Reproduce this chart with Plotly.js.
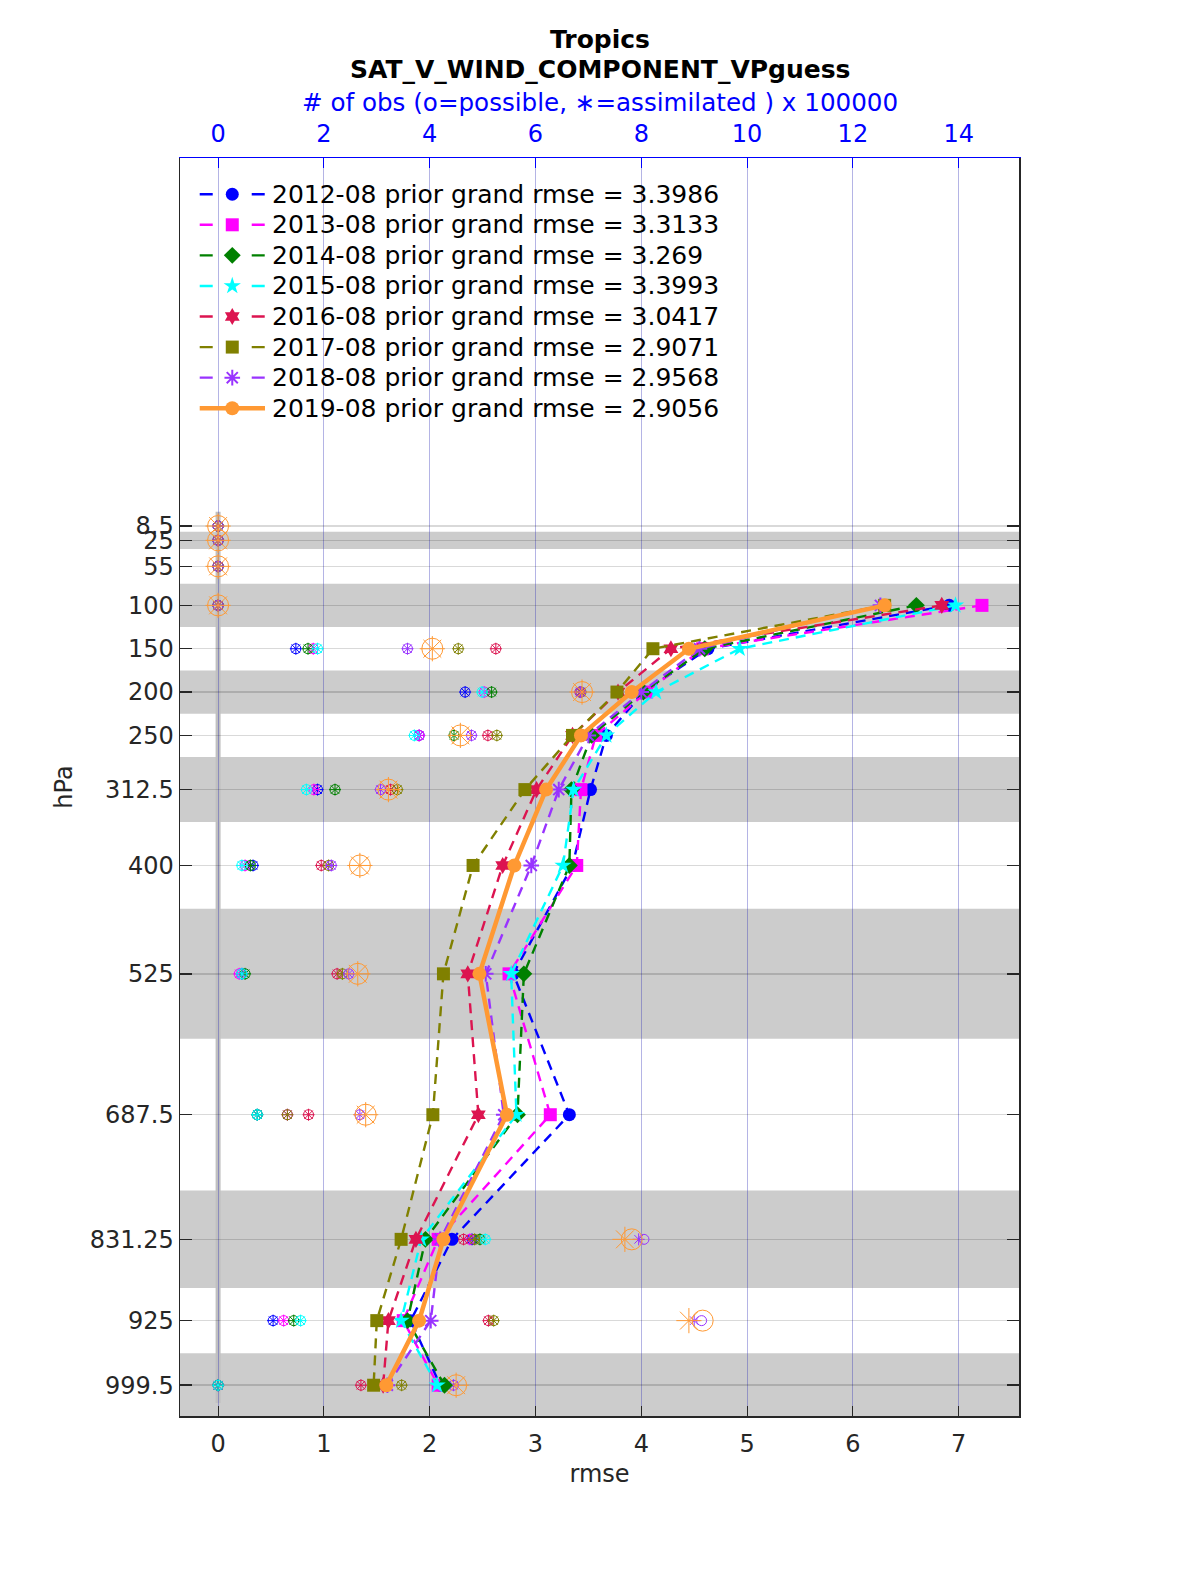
<!DOCTYPE html>
<html><head><meta charset="utf-8">
<script src="https://cdn.plot.ly/plotly-3.0.1.min.js"></script>
<style>html,body{margin:0;padding:0;background:#fff}#plot{width:1200px;height:1575px}</style>
</head><body><div id="plot"></div>
<script>
// ---------- data ----------
const levels = [8.5, 25, 55, 100, 150, 200, 250, 312.5, 400, 525, 687.5, 831.25, 925, 999.5];
const levelLabels = ['8.5', '25', '55', '100', '150', '200', '250', '312.5', '400', '525', '687.5', '831.25', '925', '999.5'];
const rmseLevels = [100, 150, 200, 250, 312.5, 400, 525, 687.5, 831.25, 925, 999.5];
const seriesNames = ['2012-08', '2013-08', '2014-08', '2015-08', '2016-08', '2017-08', '2018-08', '2019-08'];
const grandRmse = ['3.3986', '3.3133', '3.269', '3.3993', '3.0417', '2.9071', '2.9568', '2.9056'];

const rmse2012 = [6.91, 4.63, 4.02, 3.67, 3.52, 3.35, 2.79, 3.32, 2.21, 1.82, 2.10];
const rmse2013 = [7.22, 4.58, 4.05, 3.57, 3.43, 3.39, 2.75, 3.14, 2.08, 1.75, 2.08];
const rmse2014 = [6.60, 4.60, 4.02, 3.53, 3.34, 3.32, 2.89, 2.83, 1.96, 1.79, 2.14];
const rmse2015 = [6.97, 4.93, 4.14, 3.67, 3.36, 3.26, 2.77, 2.82, 1.92, 1.73, 2.07];
const rmse2016 = [6.84, 4.28, 3.78, 3.35, 3.01, 2.69, 2.36, 2.46, 1.87, 1.61, 1.56];
const rmse2017 = [6.30, 4.11, 3.77, 3.35, 2.90, 2.41, 2.13, 2.03, 1.73, 1.50, 1.47];
const rmse2018 = [6.26, 4.55, 4.00, 3.50, 3.22, 2.96, 2.53, 2.70, 2.10, 2.01, 1.60];
const rmse2019 = [6.30, 4.45, 3.91, 3.43, 3.10, 2.80, 2.47, 2.73, 2.13, 1.90, 1.59];

// # of obs (x 100000) per level: possible / assimilated
const possible2012 = [0, 0, 0, 0, 1.47, 4.67, 3.80, 1.88, 0.66, 0.45, 0.74, 4.80, 1.04, 0];
const assim2012    = [0, 0, 0, 0, 1.47, 4.67, 3.80, 1.88, 0.66, 0.45, 0.74, 4.80, 1.04, 0];
const possible2013 = [0, 0, 0, 0, 1.80, 5.03, 3.80, 1.81, 0.51, 0.40, 1.31, 4.76, 1.24, 0];
const assim2013    = [0, 0, 0, 0, 1.80, 5.03, 3.80, 1.81, 0.51, 0.40, 1.31, 4.76, 1.24, 0];
const possible2014 = [0, 0, 0, 0, 1.70, 5.17, 4.46, 2.21, 0.61, 0.51, 0.74, 4.95, 1.43, 0];
const assim2014    = [0, 0, 0, 0, 1.70, 5.17, 4.46, 2.21, 0.61, 0.51, 0.74, 4.95, 1.43, 0];
const possible2015 = [0, 0, 0, 0, 1.88, 4.99, 3.71, 1.67, 0.45, 0.45, 0.74, 5.05, 1.56, 0];
const assim2015    = [0, 0, 0, 0, 1.88, 4.99, 3.71, 1.67, 0.45, 0.45, 0.74, 5.05, 1.56, 0];
const possible2016 = [0, 0, 0, 0, 5.25, 6.84, 5.10, 3.26, 1.95, 2.25, 1.71, 4.64, 5.11, 2.70];
const assim2016    = [0, 0, 0, 0, 5.25, 6.84, 5.10, 3.26, 1.95, 2.25, 1.71, 4.64, 5.11, 2.70];
const possible2017 = [0, 0, 0, 0, 4.54, 6.86, 5.27, 3.39, 2.09, 2.35, 1.31, 4.85, 5.21, 3.47];
const assim2017    = [0, 0, 0, 0, 4.54, 6.86, 5.27, 3.39, 2.09, 2.35, 1.31, 4.85, 5.21, 3.47];
const possible2018 = [0, 0, 0, 0, 3.58, 6.85, 4.79, 3.07, 2.14, 2.47, 2.68, 8.05, 9.14, 4.45];
const assim2018    = [0, 0, 0, 0, 3.58, 6.85, 4.79, 3.07, 2.14, 2.47, 2.68, 7.95, 9.00, 4.45];
const possible2019 = [0, 0, 0, 0, 4.05, 6.88, 4.58, 3.22, 2.68, 2.64, 2.79, 7.82, 9.16, 4.50];
const assim2019    = [0, 0, 0, 0, 4.05, 6.88, 4.58, 3.22, 2.68, 2.64, 2.79, 7.69, 8.90, 4.50];

// shaded layer bands (hPa)
const bandEdges = [[15, 35], [75, 125], [175, 225], [275, 350], [450, 600], [775, 887.5], [962.5, 1040]];

// ---------- styles ----------
const rmseSets = [rmse2012, rmse2013, rmse2014, rmse2015, rmse2016, rmse2017, rmse2018, rmse2019];
const possSets = [possible2012, possible2013, possible2014, possible2015, possible2016, possible2017, possible2018, possible2019];
const assimSets = [assim2012, assim2013, assim2014, assim2015, assim2016, assim2017, assim2018, assim2019];
const colors = ['#0000ff', '#ff00ff', '#008000', '#00ffff', '#dc1450', '#808000', '#9933ff', '#ff9933'];
const symbols = ['circle', 'square', 'diamond', 'star', 'hexagram', 'square', 'asterisk-open', 'circle'];

const FONT = 'DejaVu Sans, Verdana, sans-serif';
const traces = [];

function lineStyle(i, dash) {
  const last = i === 7;
  return {color: colors[i], width: last ? 4.5 : 2.4, dash: last ? 'solid' : dash};
}
function markerStyle(i) {
  const last = i === 7;
  const isAst = symbols[i] === 'asterisk-open';
  return {symbol: symbols[i], size: last ? 14 : 13, color: colors[i],
          line: {color: colors[i], width: isAst ? 2 : 0}};
}

// obs counts first (top axis: x)
for (let i = 0; i < 8; i++) {
  const big = i === 7;
  traces.push({
    x: possSets[i], y: levels, xaxis: 'x', yaxis: 'y', type: 'scatter', mode: 'markers',
    showlegend: false, hoverinfo: 'skip',
    marker: {symbol: 'circle-open', size: big ? 21 : 10, color: colors[i], line: {color: colors[i], width: 1}}
  });
  traces.push({
    x: assimSets[i], y: levels, xaxis: 'x', yaxis: 'y', type: 'scatter', mode: 'markers',
    showlegend: false, hoverinfo: 'skip',
    marker: {symbol: 'asterisk-open', size: big ? 21 : 10, color: colors[i], line: {color: colors[i], width: 1}}
  });
}

// rmse profiles (bottom axis: x2)
for (let i = 0; i < 8; i++) {
  traces.push({
    x: rmseSets[i], y: rmseLevels, xaxis: 'x2', yaxis: 'y', type: 'scatter', mode: 'lines+markers',
    showlegend: false, hoverinfo: 'skip',
    line: lineStyle(i, '10px,7px'), marker: markerStyle(i)
  });
}

// legend (drawn in plot-fraction coordinates on a hidden axis pair)
const LEG_X0 = 0.0235, LEG_XM = 0.0623, LEG_X1 = 0.1013, LEG_TEXT_X = 0.1078;
const LEG_Y0 = 0.9712, LEG_DY = 0.02430;
const annotations = [];
for (let i = 0; i < 8; i++) {
  const yy = LEG_Y0 - i * LEG_DY;
  traces.push({
    x: [LEG_X0, LEG_X1], y: [yy, yy], xaxis: 'x3', yaxis: 'y3',
    type: 'scatter', mode: 'lines', showlegend: false, hoverinfo: 'skip',
    line: lineStyle(i, '13px,39px,13px')
  });
  traces.push({
    x: [LEG_XM], y: [yy], xaxis: 'x3', yaxis: 'y3',
    type: 'scatter', mode: 'markers', showlegend: false, hoverinfo: 'skip',
    marker: markerStyle(i)
  });
  annotations.push({
    text: seriesNames[i] + ' prior grand rmse = ' + grandRmse[i],
    xref: 'paper', yref: 'paper', x: LEG_TEXT_X, y: yy, xanchor: 'left', yanchor: 'middle',
    showarrow: false, font: {family: FONT, size: 25, color: '#000000'}
  });
}

annotations.push(
  {text: '<b>Tropics</b>', xref: 'paper', yref: 'paper', x: 0.5, y: 1.0945, showarrow: false,
   xanchor: 'center', yanchor: 'middle', font: {family: FONT, size: 25, color: '#000000'}},
  {text: '<b>SAT_V_WIND_COMPONENT_VPguess</b>', xref: 'paper', yref: 'paper', x: 0.5, y: 1.0705, showarrow: false,
   xanchor: 'center', yanchor: 'middle', font: {family: FONT, size: 25, color: '#000000'}},
  {text: '# of obs (o=possible, \u2217=assimilated ) x 100000', xref: 'paper', yref: 'paper', x: 0.5, y: 1.0440, showarrow: false,
   xanchor: 'center', yanchor: 'middle', font: {family: FONT, size: 24.6, color: '#0000ff'}}
);

const shapes = bandEdges.map(b => ({
  type: 'rect', xref: 'paper', yref: 'y', x0: 0, x1: 1, y0: b[0], y1: b[1],
  fillcolor: '#cccccc', line: {width: 0}, layer: 'below'
}));
shapes.push({type: 'line', xref: 'x2', yref: 'y', x0: 0, x1: 0, y0: -8, y1: 1020,
  line: {color: '#c0c0c0', width: 5}, layer: 'below'});

const layout = {
  width: 1200, height: 1575, autosize: false,
  paper_bgcolor: '#ffffff', plot_bgcolor: '#ffffff',
  margin: {l: 180, r: 181, t: 158, b: 159},
  font: {family: FONT, size: 24, color: '#262626'},
  showlegend: false,
  xaxis: {
    side: 'top', range: [-0.72, 15.14], dtick: 2, tick0: 0, automargin: false,
    ticks: 'inside', ticklen: 10, tickcolor: '#0000ff', tickwidth: 1,
    showline: true, linecolor: '#0000ff', linewidth: 1.5, ticklabelstandoff: 5,
    tickfont: {family: FONT, size: 24, color: '#0000ff'},
    showgrid: true, gridcolor: 'rgba(40,40,180,0.35)', gridwidth: 1, zeroline: false
  },
  xaxis2: {
    overlaying: 'x', side: 'bottom', range: [-0.36, 7.57], dtick: 1, tick0: 0, automargin: false,
    ticks: 'inside', ticklen: 10, tickcolor: '#262626', tickwidth: 1,
    showline: true, linecolor: '#262626', linewidth: 1.5, ticklabelstandoff: 6,
    tickfont: {family: FONT, size: 24, color: '#262626'},
    showgrid: false, zeroline: false,
    title: {text: 'rmse', font: {family: FONT, size: 24, color: '#262626'}, standoff: 8}
  },
  xaxis3: {overlaying: 'x', anchor: 'y3', range: [0, 1], visible: false, automargin: false},
  yaxis3: {overlaying: 'y', anchor: 'x3', range: [0, 1], visible: false, automargin: false},
  yaxis: {
    range: [1035, -416], tickmode: 'array', tickvals: levels, ticktext: levelLabels, automargin: false,
    ticks: 'inside', ticklen: 12, tickcolor: '#262626', tickwidth: 1.5,
    showline: true, linecolor: '#262626', linewidth: 1.5, mirror: 'ticks',
    tickfont: {family: FONT, size: 24, color: '#262626'},
    showgrid: true, gridcolor: 'rgba(0,0,0,0.15)', gridwidth: 1.5, zeroline: false,
    title: {text: 'hPa', font: {family: FONT, size: 24, color: '#262626'}, standoff: 10}
  },
  shapes: shapes,
  annotations: annotations
};

Plotly.newPlot('plot', traces, layout, {staticPlot: true, displayModeBar: false});
</script>
</body></html>
